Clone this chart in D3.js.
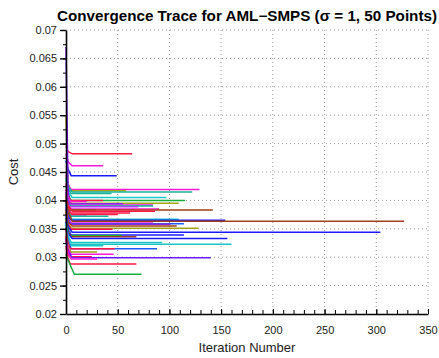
<!DOCTYPE html>
<html>
<head>
<meta charset="utf-8">
<script src="https://cdn.jsdelivr.net/npm/d3@7"></script>
<style>
  body { margin: 0; background: #fff; }
  svg { display: block; font-family: "Liberation Sans", Arial, sans-serif; }
  .grid line { stroke: #999; stroke-dasharray: 1,3; }
  .axis path, .axis line { stroke: #000; }
  .axis text { fill: #222; font-size: 11px; }
</style>
</head>
<body>
<svg id="chart" width="439" height="358"></svg>
<script>
// one entry per run: start cost, cost at iteration 2, iteration where it settles, final cost, last iteration, colour
const startCost = [0.0495, 0.0482, 0.0470, 0.0445, 0.0550, 0.0440, 0.0436, 0.0430, 0.0425, 0.0430,
                   0.0670, 0.0420, 0.0418, 0.0415, 0.0412, 0.0410, 0.0408, 0.0405, 0.0410, 0.0402,
                   0.0400, 0.0398, 0.0395, 0.0392, 0.0398, 0.0385, 0.0388, 0.0386, 0.0382, 0.0380,
                   0.0378, 0.0375, 0.0370, 0.0368, 0.0366, 0.0362, 0.0360, 0.0356, 0.0352, 0.0350,
                   0.0348, 0.0342, 0.0338, 0.0335, 0.0332, 0.0330, 0.0320, 0.0305, 0.0420, 0.0415];
const midCost   = [0.0486, 0.0468, 0.0455, 0.0428, 0.0430, 0.0424, 0.0420, 0.0415, 0.0410, 0.0410,
                   0.0420, 0.0402, 0.0400, 0.0398, 0.0395, 0.0392, 0.0390, 0.0388, 0.0390, 0.0385,
                   0.0385, 0.0380, 0.0375, 0.0372, 0.0380, 0.0368, 0.0368, 0.0367, 0.0362, 0.0360,
                   0.0358, 0.0354, 0.0350, 0.0348, 0.0345, 0.0342, 0.0338, 0.0334, 0.0330, 0.0328,
                   0.0325, 0.0318, 0.0315, 0.0312, 0.0310, 0.0305, 0.0298, 0.0295, 0.0405, 0.0400];
const settleIter = [6, 6, 5, 5, 4, 6, 5, 6, 5, 4,
                    4, 5, 6, 5, 4, 5, 4, 5, 6, 4,
                    5, 5, 6, 5, 6, 5, 4, 5, 6, 5,
                    5, 6, 5, 4, 5, 6, 5, 4, 5, 5,
                    4, 5, 5, 4, 6, 5, 4, 8, 5, 4];
const finalCost = [0.0482, 0.0461, 0.04435, 0.0419, 0.0417, 0.0415, 0.0412, 0.0405, 0.0400, 0.0400,
                   0.0372, 0.0395, 0.0392, 0.0390, 0.0389, 0.0385, 0.0383, 0.0383, 0.0381, 0.0378,
                   0.0375, 0.0372, 0.0367, 0.0365, 0.03634, 0.0360, 0.0359, 0.0358, 0.0355, 0.0351,
                   0.0349, 0.0344, 0.0339, 0.0338, 0.0336, 0.0333, 0.0326, 0.0323, 0.0320, 0.0315,
                   0.0315, 0.0309, 0.0305, 0.0301, 0.0299, 0.0297, 0.0288, 0.0270, 0.0398, 0.0394];
const endIter   = [64, 36, 49, 129, 58, 122, 44, 97, 115, 36,
                   20, 109, 84, 84, 70, 90, 29, 142, 86, 62,
                   50, 41, 109, 154, 327, 84, 114, 101, 107, 128,
                   45, 304, 114, 54, 68, 156, 93, 160, 36, 88,
                   47, 30, 46, 25, 140, 30, 68, 73, 20, 55];
const runColor  = ["#ff1744", "#ff1ad9", "#1a1aff", "#ff1ad9", "#a3a31a", "#1ab39a", "#1ab39a", "#1ac6c6", "#1aad3a", "#ff1744",
                   "#7a1aff", "#a3a31a", "#e01ae0", "#1ab39a", "#b040ff", "#ff1ad9", "#1aad3a", "#a0401a", "#ff1744", "#ff1744",
                   "#ff1744", "#1ab39a", "#1ac6c6", "#1a1aff", "#a0401a", "#ff1ad9", "#1a5aff", "#8a2be2", "#a0401a", "#a3a31a",
                   "#ff1744", "#1a1aff", "#1a1aff", "#1aad3a", "#a0401a", "#1a1aff", "#1ac6c6", "#1ac6c6", "#1ac6c6", "#1a5aff",
                   "#ff1744", "#a3a31a", "#ff1ad9", "#ff1744", "#6a1aff", "#ff1ad9", "#ff1744", "#1aad3a", "#ff1ad9", "#8a2be2"];

const xTicks = [0, 50, 100, 150, 200, 250, 300, 350];
const yTicks = [0.02, 0.025, 0.03, 0.035, 0.04, 0.045, 0.05, 0.055, 0.06, 0.065, 0.07];

const svg = d3.select("#chart");
const margin = { top: 30, right: 11, bottom: 44, left: 66 };
const width = 439 - margin.left - margin.right;
const height = 358 - margin.top - margin.bottom;

const x = d3.scaleLinear().domain([0, 350]).range([0, width]);
const y = d3.scaleLinear().domain([0.02, 0.07]).range([height, 0]);

const g = svg.append("g").attr("transform", "translate(" + margin.left + "," + margin.top + ")");

// dotted grid
g.append("g").attr("class", "grid")
  .selectAll("line").data(xTicks.slice(1)).enter().append("line")
  .attr("x1", d => x(d)).attr("x2", d => x(d)).attr("y1", 0).attr("y2", height);
g.append("g").attr("class", "grid")
  .selectAll("line").data(yTicks.slice(1)).enter().append("line")
  .attr("x1", 0).attr("x2", width).attr("y1", d => y(d)).attr("y2", d => y(d));

// runs
const runs = finalCost.map((f, i) => [
  [0, startCost[i]],
  [2, midCost[i]],
  [settleIter[i], f],
  [endIter[i], f]
]);
const line = d3.line().x(d => x(d[0])).y(d => y(d[1]));
g.append("g").selectAll("path").data(runs).enter().append("path")
  .attr("d", line)
  .attr("fill", "none")
  .attr("stroke", (d, i) => runColor[i])
  .attr("stroke-width", 1.5);

// minor ticks
g.append("g").attr("class", "axis")
  .attr("transform", "translate(0," + height + ")")
  .call(d3.axisBottom(x).tickValues(d3.range(0, 351, 10)).tickSize(-4).tickFormat(""))
  .call(a => a.select(".domain").remove());
g.append("g").attr("class", "axis")
  .call(d3.axisLeft(y).tickValues(d3.range(0, 21).map(i => 0.02 + i * 0.0025)).tickSize(3).tickFormat(""))
  .call(a => a.select(".domain").remove());

// main axes
g.append("g").attr("class", "axis")
  .attr("transform", "translate(0," + height + ")")
  .call(d3.axisBottom(x).tickValues(xTicks).tickSizeInner(-5).tickSizeOuter(0).tickPadding(12))
  .call(a => a.select(".domain").attr("stroke-width", 1.6));
g.append("g").attr("class", "axis")
  .call(d3.axisLeft(y).tickValues(yTicks).tickSize(6).tickSizeOuter(0).tickPadding(3).tickFormat(d3.format("")))
  .call(a => a.select(".domain").attr("stroke-width", 1.6))
  .call(a => a.selectAll(".tick line").attr("stroke-width", 1.4));

// labels
svg.append("text")
  .attr("x", 247).attr("y", 21)
  .attr("text-anchor", "middle")
  .attr("font-size", 14).attr("font-weight", "bold")
  .attr("textLength", 380).attr("lengthAdjust", "spacingAndGlyphs")
  .text("Convergence Trace for AML\u2212SMPS (\u03c3 = 1, 50 Points)");

svg.append("text")
  .attr("x", 247).attr("y", 352)
  .attr("text-anchor", "middle")
  .attr("font-size", 13).attr("fill", "#222")
  .text("Iteration Number");

svg.append("text")
  .attr("transform", "translate(18," + (margin.top + height / 2) + ") rotate(-90)")
  .attr("text-anchor", "middle")
  .attr("font-size", 13).attr("fill", "#222")
  .text("Cost");
</script>
</body>
</html>
